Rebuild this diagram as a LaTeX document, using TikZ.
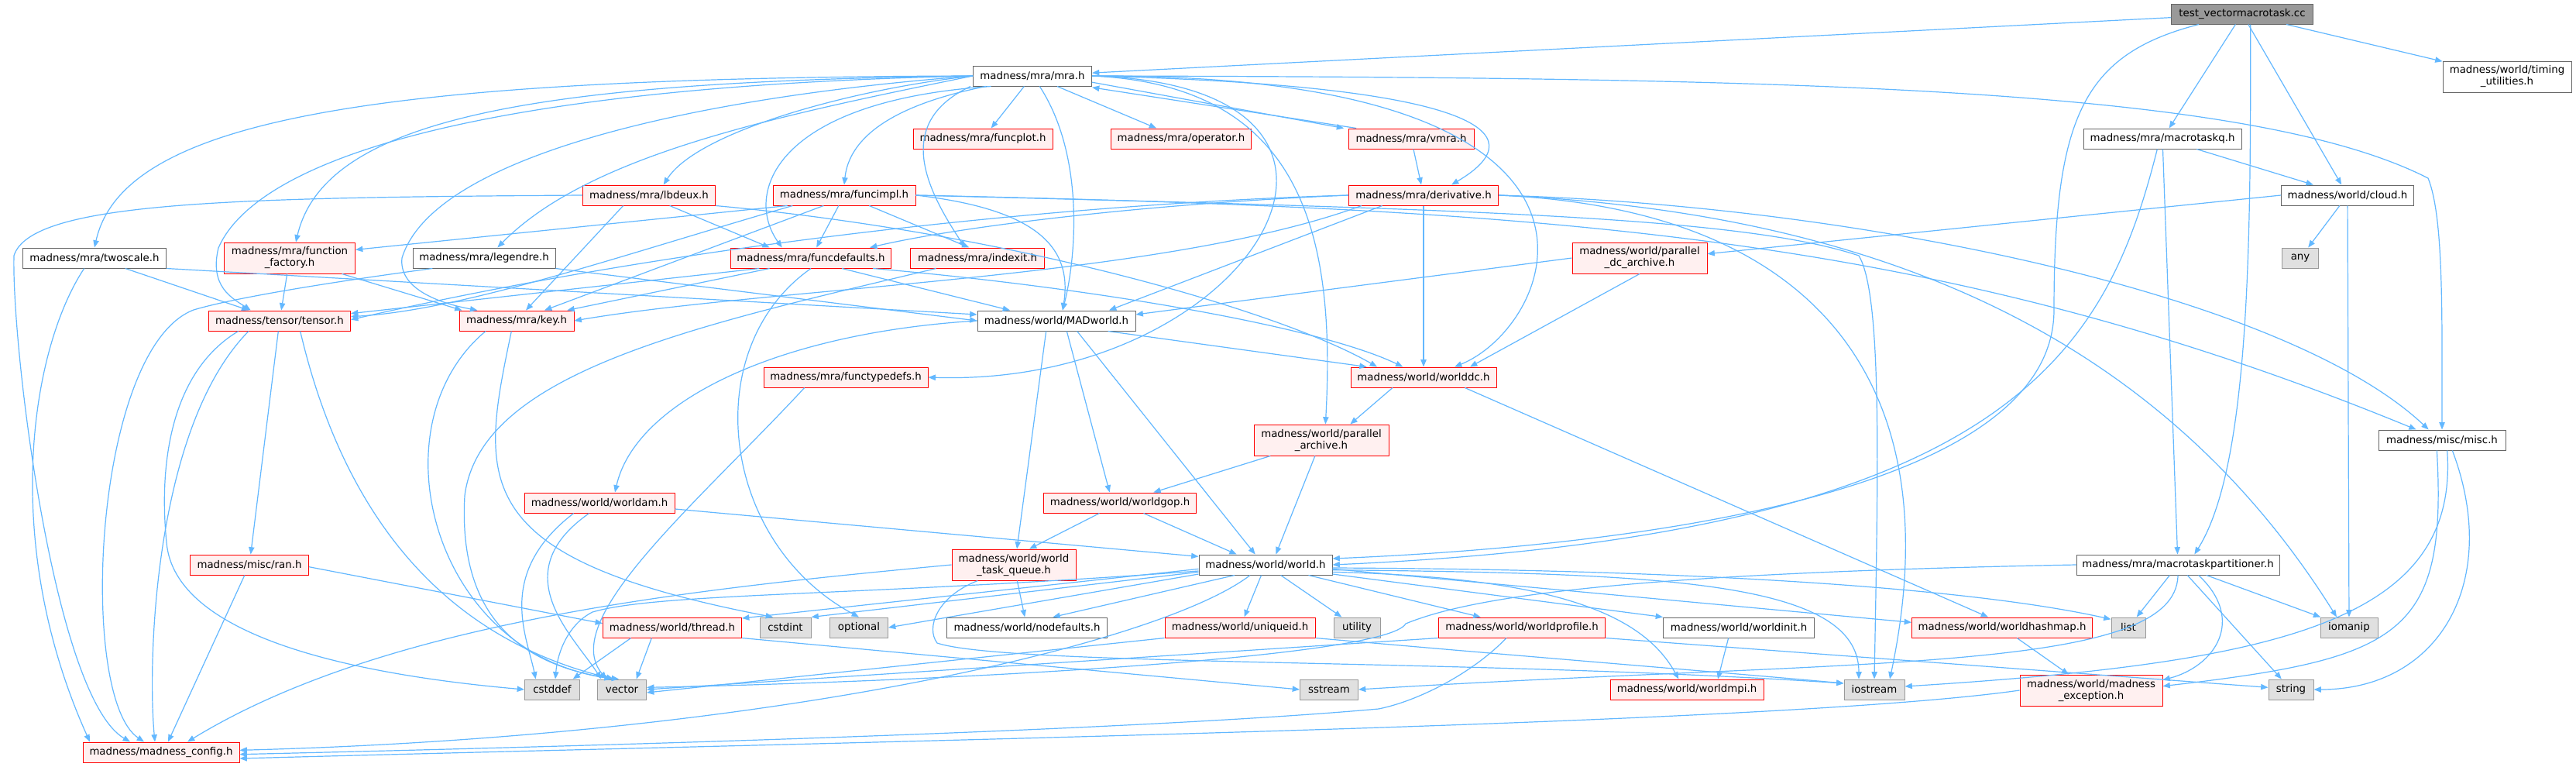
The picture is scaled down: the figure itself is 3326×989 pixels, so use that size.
\documentclass[tikz,border=0pt]{standalone}
\usepackage{fontspec}
\setmainfont{DejaVu Sans}
\usetikzlibrary{arrows.meta}
\definecolor{edgeblue}{HTML}{63B8FF}
\definecolor{pinkfill}{HTML}{FFF0F0}
\definecolor{grayfill}{HTML}{E0E0E0}
\definecolor{graydraw}{HTML}{999999}
\definecolor{darkdraw}{HTML}{666666}
\definecolor{rootfill}{HTML}{999999}
\definecolor{reddraw}{HTML}{FF0000}
\begin{document}
\begin{tikzpicture}[x=0.75pt,y=-0.75pt,
  box/.style={draw, line width=0.75pt, inner xsep=2pt, inner ysep=0pt, minimum height=19.5pt,
    font=\fontsize{10}{11.25}\selectfont, align=center},
  tall/.style={minimum height=30pt},
  nred/.style={box, draw=reddraw, fill=pinkfill},
  nwhite/.style={box, draw=darkdraw, fill=white},
  ngray/.style={box, draw=graydraw, fill=grayfill},
  nroot/.style={box, draw=darkdraw, fill=rootfill},
  lk/.style={draw=edgeblue, line width=0.9pt, -{Triangle[length=7pt,width=5.5pt]}},
]
\useasboundingbox (0,0) rectangle (3326,989);
\fill[white] (0,0) rectangle (3326,989);

% ---------- nodes ----------
\node[nroot, minimum width=137.25pt] (root) at (2895,18) {test\_vectormacrotask.cc};
\node[nwhite, minimum width=114.75pt] (mra) at (1333,98) {madness/mra/mra.h};
\node[nwhite, tall, minimum width=124.5pt] (timing) at (3237,99) {madness/world/timing\\\_utilities.h};
\node[nred, minimum width=135pt] (funcplot) at (1269,179) {madness/mra/funcplot.h};
\node[nred, minimum width=135.75pt] (operator) at (1525,179) {madness/mra/operator.h};
\node[nred, minimum width=121.5pt] (vmra) at (1822,179) {madness/mra/vmra.h};
\node[nwhite, minimum width=153pt] (mtq) at (2792,179) {madness/mra/macrotaskq.h};
\node[nred, minimum width=128.25pt] (lbdeux) at (838,252) {madness/mra/lbdeux.h};
\node[nred, minimum width=138pt] (funcimpl) at (1090,252) {madness/mra/funcimpl.h};
\node[nred, minimum width=144.75pt] (deriv) at (1838,252) {madness/mra/derivative.h};
\node[nwhite, minimum width=128.25pt] (cloud) at (3031,252) {madness/world/cloud.h};
\node[nwhite, minimum width=138.75pt] (twoscale) at (122,333) {madness/mra/twoscale.h};
\node[nred, tall, minimum width=126.75pt] (ff) at (374,333) {madness/mra/function\\\_factory.h};
\node[nwhite, minimum width=138pt] (legendre) at (625,333) {madness/mra/legendre.h};
\node[nred, minimum width=155.25pt] (fdef) at (1047,333) {madness/mra/funcdefaults.h};
\node[nred, minimum width=129.75pt] (indexit) at (1262,333) {madness/mra/indexit.h};
\node[nred, tall, minimum width=130.5pt] (pdc) at (2117,333) {madness/world/parallel\\\_dc\_archive.h};
\node[ngray, minimum width=35.25pt] (any) at (2970,333) {any};
\node[nred, minimum width=137.25pt] (tensor) at (361,414) {madness/tensor/tensor.h};
\node[nred, minimum width=111pt] (key) at (667,414) {madness/mra/key.h};
\node[nwhite, minimum width=153pt] (madw) at (1364,414) {madness/world/MADworld.h};
\node[nred, minimum width=159pt] (ftd) at (1092,487) {madness/mra/functypedefs.h};
\node[nred, minimum width=141pt] (wdc) at (1838,487) {madness/world/worlddc.h};
\node[nred, tall, minimum width=130.5pt] (pa) at (1706,568) {madness/world/parallel\\\_archive.h};
\node[nwhite, minimum width=123pt] (misc) at (3153,568) {madness/misc/misc.h};
\node[nred, minimum width=145.5pt] (wam) at (774,649) {madness/world/worldam.h};
\node[nred, minimum width=147.75pt] (wgop) at (1446,649) {madness/world/worldgop.h};
\node[nred, minimum width=114.75pt] (ran) at (322,729) {madness/misc/ran.h};
\node[nred, tall, minimum width=120pt] (wtq) at (1309,729) {madness/world/world\\\_task\_queue.h};
\node[nwhite, minimum width=129pt] (world) at (1634,729) {madness/world/world.h};
\node[nwhite, minimum width=196.5pt] (mtp) at (2812,729) {madness/mra/macrotaskpartitioner.h};
\node[nred, minimum width=134.25pt] (thread) at (868,810) {madness/world/thread.h};
\node[ngray, minimum width=49.5pt] (cstdint) at (1014,810) {cstdint};
\node[ngray, minimum width=56.25pt] (optional) at (1109,810) {optional};
\node[nwhite, minimum width=155.25pt] (nodef) at (1326,810) {madness/world/nodefaults.h};
\node[nred, minimum width=145.5pt] (uid) at (1601,810) {madness/world/uniqueid.h};
\node[ngray, minimum width=45pt] (utility) at (1752,810) {utility};
\node[nred, minimum width=161.25pt] (wprof) at (1965,810) {madness/world/worldprofile.h};
\node[nwhite, minimum width=146.25pt] (winit) at (2245,810) {madness/world/worldinit.h};
\node[nred, minimum width=174.75pt] (whash) at (2585,810) {madness/world/worldhashmap.h};
\node[ngray, minimum width=33pt] (list) at (2748,810) {list};
\node[ngray, minimum width=55.5pt] (iomanip) at (3033,810) {iomanip};
\node[ngray, minimum width=53.25pt] (cstddef) at (713,890) {cstddef};
\node[ngray, minimum width=47.25pt] (vector) at (803,890) {vector};
\node[ngray, minimum width=56.25pt] (sstream) at (1716,890) {sstream};
\node[nred, minimum width=148.5pt] (wmpi) at (2178,890) {madness/world/worldmpi.h};
\node[ngray, minimum width=58.5pt] (iostream) at (2420,890) {iostream};
\node[nred, tall, minimum width=138pt] (mexc) at (2700,891) {madness/world/madness\\\_exception.h};
\node[ngray, minimum width=43.5pt] (string) at (2958,890) {string};
\node[nred, minimum width=151.5pt] (config) at (208,971) {madness/madness\_config.h};

% ---------- routing points ----------
\coordinate (rw) at (2652,400);
\coordinate (mt) at (282,320);
\coordinate (mk) at (519,333);
\coordinate (lc) at (250,400);
\coordinate (lb) at (18,330);
\coordinate (tc) at (215,700);
\coordinate (ix) at (600,640);
\coordinate (fi) at (2400,330);
\coordinate (gp) at (1815,805);
\coordinate (wc) at (765,790);
\coordinate (wp) at (1780,915);
\coordinate (wq) at (1210,830);
\coordinate (mm) at (3135,230);

% ---------- edges ----------
% root
\draw[lk] (root) -- (mra);
\draw[lk] (root) -- (timing);
\draw[lk] (root) -- (mtq);
\draw[lk] (root) -- (cloud);
\draw[lk] ([xshift=-42pt]root.south) .. controls (2690,70) and (2652,150) .. (rw) .. controls (2652,640) and (2100,705) .. ([yshift=6pt]world.east);
\draw[lk] ([xshift=8pt]root.south) .. controls (2906,300) and (2906,600) .. ([xshift=16pt]mtp.north);

% mra
\draw[lk] (mra.west) .. controls (500,100) and (160,150) .. (twoscale.north);
\draw[lk] (mra.west) .. controls (700,105) and (420,150) .. ([xshift=6pt]ff.north);
\draw[lk] (mra.west) .. controls (600,112) and (330,210) .. (mt) .. controls (270,370) and (300,385) .. ([xshift=-28pt]tensor.north);
\draw[lk] (mra.west) .. controls (1000,150) and (760,200) .. ([xshift=13pt]legendre.north);
\draw[lk] (mra.west) .. controls (900,125) and (560,200) .. (mk) .. controls (515,370) and (560,390) .. ([xshift=-38pt]key.north);
\draw[lk] (mra.west) .. controls (1100,115) and (900,170) .. ([xshift=14pt]lbdeux.north);
\draw[lk] ([xshift=-40pt]mra.south) .. controls (1000,130) and (960,250) .. ([xshift=-28pt]fdef.north);
\draw[lk] ([xshift=-45pt]mra.south) .. controls (1130,140) and (1095,190) .. (funcimpl.north);
\draw[lk] ([xshift=-60pt]mra.south) .. controls (1150,160) and (1200,250) .. ([xshift=-12pt]indexit.north);
\draw[lk] (mra) -- (funcplot);
\draw[lk] (mra) -- (operator);
\draw[lk] ([yshift=4pt]mra.south east) -- ([xshift=-4pt]vmra.north west);
\draw[lk] ([xshift=8pt]vmra.north west) -- ([yshift=-1pt]mra.south east);
\draw[lk] ([xshift=7pt]mra.south) .. controls (1400,200) and (1390,330) .. ([xshift=6pt]madw.north);
\draw[lk] (mra.east) .. controls (1850,110) and (1620,500) .. (ftd.east);
\draw[lk] (mra.east) .. controls (1680,110) and (1725,300) .. ([xshift=4pt]pa.north);
\draw[lk] (mra.east) .. controls (1900,110) and (1990,170) .. ([xshift=27pt]deriv.north);
\draw[lk] (mra.east) .. controls (2150,95) and (2010,420) .. ([xshift=30pt]wdc.north);
\draw[lk] (mra.east) .. controls (2300,100) and (2900,110) .. (mm) .. controls (3155,280) and (3153,400) .. (misc.north);

% vmra
\draw[lk] (vmra) -- (deriv);

% twoscale
\draw[lk] ([xshift=-10pt]twoscale.south) .. controls (40,450) and (0,700) .. ([xshift=-69pt]config.north);
\draw[lk] (twoscale) -- (tensor);
\draw[lk] (twoscale.south east) -- ([yshift=6pt]madw.west);

% function factory
\draw[lk] (ff) -- (tensor);
\draw[lk] (ff) -- ([xshift=3pt]key.north west);

% legendre
\draw[lk] ([xshift=-50pt]legendre.south) .. controls (420,365) and (300,385) .. (lc) .. controls (120,450) and (100,900) .. ([xshift=-16.5pt]config.north);
\draw[lk] (legendre.south east) -- (madw.west);

% lbdeux
\draw[lk] (lbdeux.west) .. controls (300,255) and (40,260) .. (lb) .. controls (15,450) and (70,900) .. ([xshift=-30pt]config.north);
\draw[lk] ([xshift=-25pt]lbdeux.south) -- ([xshift=9pt]key.north);
\draw[lk] ([xshift=20pt]lbdeux.south) -- ([xshift=-40pt]fdef.north);
\draw[lk] (lbdeux.south east) .. controls (1300,300) and (1650,400) .. ([xshift=-45pt]wdc.north);

% funcimpl
\draw[lk] ([xshift=-55pt]funcimpl.south) -- ([yshift=8pt]ff.east);
\draw[lk] ([xshift=-50pt]funcimpl.south) .. controls (800,330) and (600,400) .. ([yshift=4pt]tensor.east);
\draw[lk] ([xshift=-20pt]funcimpl.south) -- ([xshift=27pt]key.north);
\draw[lk] (funcimpl) -- (fdef);
\draw[lk] (funcimpl) -- ([xshift=-8pt]indexit.north);
\draw[lk] (funcimpl.east) .. controls (1340,270) and (1385,320) .. ([xshift=6pt]madw.north);
\draw[lk] (funcimpl.east) .. controls (1900,270) and (2250,280) .. (fi) .. controls (2430,380) and (2425,600) .. (iostream.north);
\draw[lk] (funcimpl.east) .. controls (2000,270) and (2500,300) .. ([xshift=-25pt]misc.north);

% derivative
\draw[lk] (deriv.west) .. controls (1500,262) and (1250,290) .. ([xshift=57pt]fdef.north);
\draw[lk] ([xshift=-60pt]deriv.south) .. controls (1500,360) and (1000,370) .. (key.east);
\draw[lk] (deriv.west) .. controls (1400,262) and (900,310) .. ([yshift=1pt]tensor.east);
\draw[lk] ([xshift=-40pt]deriv.south) -- ([xshift=51pt]madw.north);
\draw[lk] (deriv) -- (wdc);
\draw[lk] (deriv.east) .. controls (2400,265) and (2950,380) .. ([xshift=-13pt]misc.north);
\draw[lk] (deriv.east) .. controls (2450,275) and (2800,450) .. ([xshift=-12pt]iomanip.north);
\draw[lk] (deriv.east) .. controls (2350,270) and (2520,500) .. ([xshift=15pt]iostream.north);

% funcdefaults
\draw[lk] ([xshift=-50pt]fdef.south) -- ([yshift=7pt]tensor.east);
\draw[lk] ([xshift=-40pt]fdef.south) -- ([xshift=49pt]key.north);
\draw[lk] (fdef.south) .. controls (900,450) and (930,700) .. (optional.north);
\draw[lk] ([xshift=30pt]fdef.south) -- ([xshift=-45pt]madw.north);
\draw[lk] ([xshift=60pt]fdef.south) .. controls (1400,370) and (1700,420) .. ([xshift=-20pt]wdc.north);

% indexit
\draw[lk] ([xshift=-40pt]indexit.south) .. controls (900,420) and (620,480) .. (ix) .. controls (590,820) and (700,860) .. ([xshift=-10pt]vector.north);

% tensor
\draw[lk] ([xshift=-30pt]tensor.south) .. controls (200,550) and (190,850) .. ([xshift=-6pt]config.north);
\draw[lk] (tensor) -- (ran);
\draw[lk] ([xshift=-40pt]tensor.south) .. controls (220,480) and (205,600) .. (tc) .. controls (225,820) and (450,870) .. (cstddef.west);
\draw[lk] ([xshift=20pt]tensor.south) .. controls (440,650) and (560,820) .. ([xshift=-8pt]vector.north);

% key
\draw[lk] ([xshift=-30pt]key.south) .. controls (480,550) and (560,850) .. ([xshift=-3pt]vector.north);
\draw[lk] ([xshift=-5pt]key.south) .. controls (620,620) and (600,720) .. ([xshift=-12pt]cstdint.north);

% ran
\draw[lk] (ran) -- ([xshift=6.75pt]config.north);
\draw[lk] ([yshift=-2pt]ran.east) -- ([yshift=4pt]thread.west);

% functypedefs
\draw[lk] ([xshift=-40pt]ftd.south) .. controls (900,650) and (720,800) .. ([xshift=-15pt]vector.north);

% worlddc, archives
\draw[lk] ([xshift=-30pt]wdc.south) -- ([xshift=28pt]pa.north);
\draw[lk] ([xshift=40pt]wdc.south) -- ([xshift=-13.5pt]whash.north);
\draw[lk] (pdc.south) -- ([xshift=45pt]wdc.north);
\draw[lk] (pdc.west) -- ([yshift=6pt]madw.east);
\draw[lk] (pa) -- (wgop);
\draw[lk] (pa) -- ([xshift=10pt]world.north);

% MADworld
\draw[lk] (madw.west) .. controls (1000,430) and (820,520) .. ([xshift=15pt]wam.north);
\draw[lk] ([xshift=-10pt]madw.south) -- ([xshift=3pt]wtq.north);
\draw[lk] ([xshift=10pt]madw.south) -- ([xshift=-10pt]wgop.north);
\draw[lk] ([xshift=20pt]madw.south) -- ([xshift=-10pt]world.north);
\draw[lk] ([xshift=50pt]madw.south) -- ([xshift=-55pt]wdc.north);

% macrotaskq, cloud
\draw[lk] (mtq) -- (cloud);
\draw[lk] (mtq) -- (mtp);
\draw[lk] ([xshift=-5pt]mtq.south) .. controls (2720,450) and (2600,690) .. (world.east);
\draw[lk] (cloud.west) -- ([yshift=4pt]pdc.east);
\draw[lk] (cloud) -- (any);
\draw[lk] (cloud) -- (iomanip);

% macrotaskpartitioner
\draw[lk] (mtp) -- (list);
\draw[lk] (mtp) -- (iomanip);
\draw[lk] (mtp) -- (string);
\draw[lk] ([xshift=20pt]mtp.south) .. controls (2900,800) and (2860,860) .. ([yshift=10pt]mexc.east);
\draw[lk] (mtp.south) .. controls (2810,870) and (2400,850) .. (sstream.east);
\draw[lk] (mtp.west) .. controls (2100,740) and (1900,770) .. (gp) .. controls (1790,850) and (1200,880) .. ([yshift=2pt]vector.east);

% misc
\draw[lk] ([xshift=-5pt]misc.south) .. controls (3160,820) and (3100,850) .. ([yshift=4pt]mexc.east);
\draw[lk] ([xshift=5pt]misc.south) .. controls (3175,800) and (2950,855) .. ([yshift=3pt]iostream.east);
\draw[lk] ([xshift=10pt]misc.south) .. controls (3230,750) and (3150,890) .. (string.east);

% worldam, worldgop, task queue
\draw[lk] ([xshift=-25pt]wam.south) .. controls (640,740) and (680,820) .. ([xshift=-16pt]cstddef.north);
\draw[lk] ([xshift=-10pt]wam.south) .. controls (650,740) and (740,820) .. ([xshift=-20pt]vector.north);
\draw[lk] ([yshift=-6pt]wam.east) -- ([yshift=8pt]world.west);
\draw[lk] (wgop) -- ([xshift=15pt]wtq.north);
\draw[lk] (wgop) -- ([xshift=-28pt]world.north);
\draw[lk] (wtq) -- (nodef);
\draw[lk] ([xshift=-35pt]wtq.south) .. controls (1210,770) and (1195,810) .. (wq) .. controls (1300,860) and (1900,850) .. ([yshift=6pt]iostream.west);
\draw[lk] (wtq.west) .. controls (900,760) and (500,800) .. ([xshift=25.5pt]config.north);

% thread
\draw[lk] ([xshift=-40pt]thread.south) -- ([xshift=20pt]cstddef.north);
\draw[lk] ([xshift=-20pt]thread.south) -- ([xshift=14pt]vector.north);
\draw[lk] (thread.south east) -- (sstream.west);

% world
\draw[lk] ([xshift=-30pt]world.south) -- ([xshift=25pt]nodef.north);
\draw[lk] (world) -- (uid);
\draw[lk] (world) -- (utility);
\draw[lk] (world) -- ([xshift=-40pt]wprof.north);
\draw[lk] ([yshift=-9pt]world.east) -- (winit.north west);
\draw[lk] ([yshift=-4pt]world.east) -- ([yshift=5pt]whash.west);
\draw[lk] ([yshift=-3pt]world.east) .. controls (2200,735) and (2550,760) .. ([yshift=8pt]list.west);
\draw[lk] ([yshift=-5pt]world.east) .. controls (2150,740) and (2400,750) .. ([xshift=-15pt]iostream.north);
\draw[lk] ([yshift=-7pt]world.east) .. controls (2000,745) and (2120,790) .. ([xshift=-8pt]wmpi.north);
\draw[lk] ([yshift=-4pt]world.west) -- ([yshift=9pt]thread.east);
\draw[lk] ([yshift=-7pt]world.west) -- (cstdint.north east);
\draw[lk] ([yshift=-9pt]world.west) -- (optional.east);
\draw[lk] ([yshift=-6pt]world.west) .. controls (1100,770) and (850,765) .. (wc) .. controls (735,805) and (720,840) .. ([xshift=3pt]cstddef.north);
\draw[lk] ([xshift=-15pt]world.south) .. controls (1500,830) and (1000,950) .. ([yshift=2pt]config.east);

% lower level
\draw[lk] (uid.south west) -- ([yshift=-3pt]vector.east);
\draw[lk] (uid.south east) .. controls (2000,850) and (2250,870) .. ([yshift=6pt]iostream.west);
\draw[lk] (wprof.south west) -- (vector.east);
\draw[lk] (wprof.south east) -- ([yshift=2pt]string.west);
\draw[lk] ([xshift=-15pt]wprof.south) .. controls (1900,870) and (1830,905) .. (wp) .. controls (1500,940) and (900,960) .. ([yshift=-2pt]config.east);
\draw[lk] ([xshift=-10pt]winit.south) -- ([xshift=30pt]wmpi.north);
\draw[lk] (whash) -- (mexc);
\draw[lk] (mexc.west) .. controls (2300,935) and (1200,955) .. ([yshift=-6pt]config.east);
\end{tikzpicture}
\end{document}
